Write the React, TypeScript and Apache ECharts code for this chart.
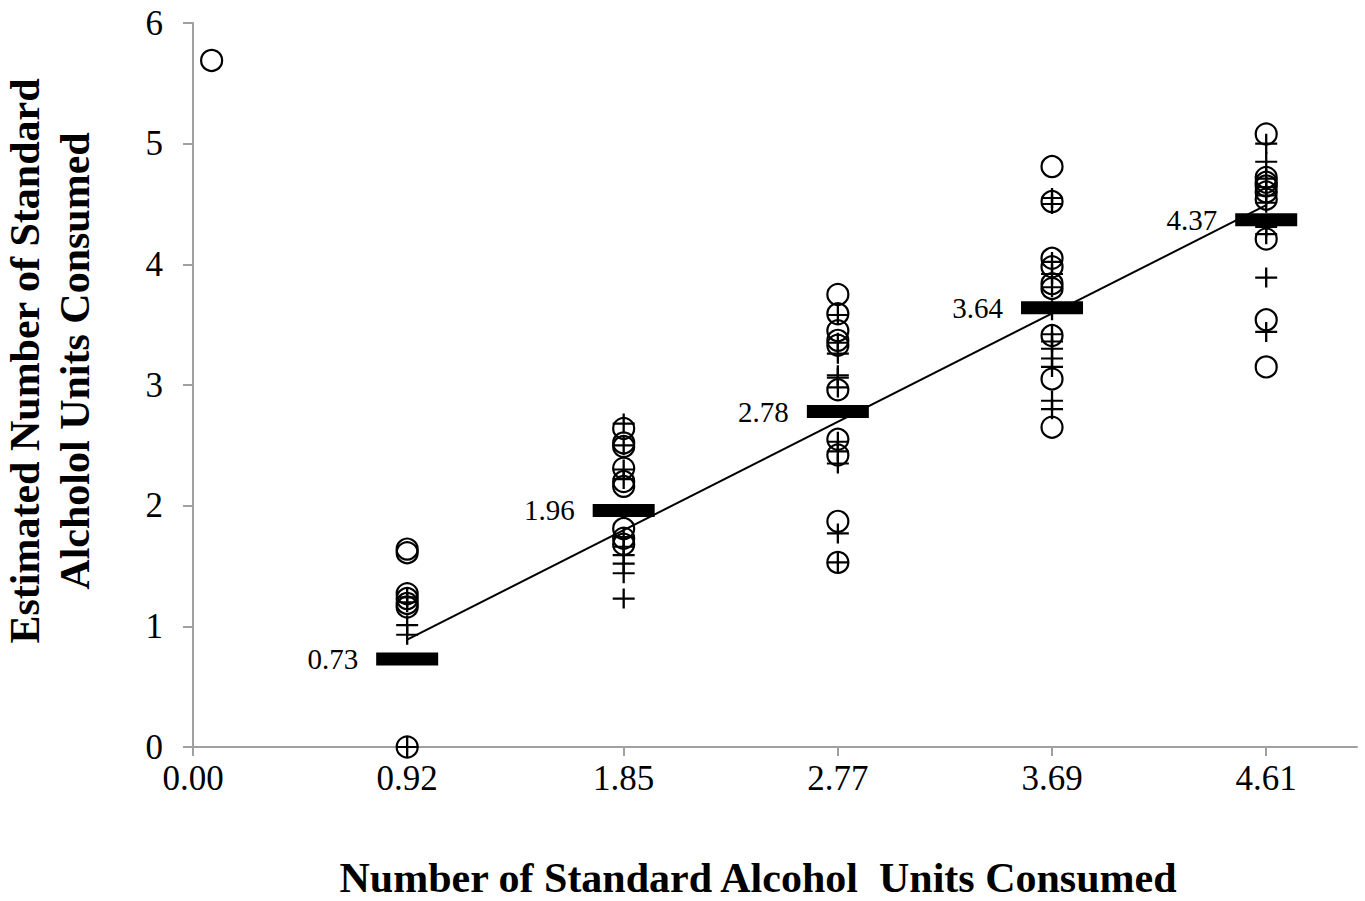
import React, { useEffect, useRef } from 'react';
import * as echarts from 'echarts';

// ---- data ----
const xTickValues = [0, 0.92, 1.85, 2.77, 3.69, 4.61];
const yMax = 6;
const meanX = [0.92, 1.85, 2.77, 3.69, 4.61];
const meanY = [0.73, 1.96, 2.78, 3.64, 4.37];
const trendX = [0.92, 4.61];
const trendY = [0.89, 4.49];
const outlierCircle = [0.08, 5.69];

const circlesAt092 = [1.64, 1.61, 1.27, 1.23, 1.19, 1.16, 0];
const circlesAt185 = [2.64, 2.52, 2.49, 2.31, 2.2, 2.16, 1.81, 1.73, 1.68];
const circlesAt277 = [3.75, 3.59, 3.45, 3.37, 3.33, 2.96, 2.55, 2.42, 1.87, 1.53];
const circlesAt369 = [4.81, 4.52, 4.05, 3.98, 3.84, 3.8, 3.41, 3.05, 2.65];
const circlesAt461 = [5.08, 4.72, 4.68, 4.65, 4.6, 4.54, 4.21, 3.54, 3.15];

const plusAt092 = [1.24, 1.2, 1.01, 0.93, 0];
const plusAt185 = [2.68, 2.5, 2.3, 2.22, 1.74, 1.66, 1.59, 1.52, 1.44, 1.23];
const plusAt277 = [3.58, 3.35, 3.26, 3.08, 3.06, 2.98, 2.53, 2.45, 2.35, 1.77, 1.53];
const plusAt369 = [4.55, 4.5, 4.02, 3.92, 3.81, 3.62, 3.42, 3.36, 3.3, 3.22, 3.15, 2.87, 2.8];
const plusAt461 = [5.0, 4.85, 4.71, 4.64, 4.57, 4.51, 4.31, 4.25, 3.89, 3.44];

const xTitle = 'Number of Standard Alcohol  Units Consumed';
const yTitle = 'Estimated Number of Standard\nAlcholol Units Consumed';

const FONT = '"Times New Roman", "Liberation Serif", serif';
const AXIS_GREY = '#a0a0a0';

function groupPoints(groups: [number, number[]][]): number[][] {
  const out: number[][] = [];
  groups.forEach(([x, ys]) => ys.forEach((y) => out.push([x, y])));
  return out;
}

export default function App() {
  const ref = useRef<HTMLDivElement>(null);

  useEffect(() => {
    document.body.style.margin = '0';
    if (!ref.current) return;
    const chart = echarts.init(ref.current, undefined, { renderer: 'svg' });

    const circleData = [outlierCircle].concat(
      groupPoints([
        [meanX[0], circlesAt092],
        [meanX[1], circlesAt185],
        [meanX[2], circlesAt277],
        [meanX[3], circlesAt369],
        [meanX[4], circlesAt461],
      ])
    );
    const plusData = groupPoints([
      [meanX[0], plusAt092],
      [meanX[1], plusAt185],
      [meanX[2], plusAt277],
      [meanX[3], plusAt369],
      [meanX[4], plusAt461],
    ]);
    const meanData = meanX.map((x, i) => [x, meanY[i]]);
    const trendData = trendX.map((x, i) => [x, trendY[i]]);

    chart.setOption({
      animation: false,
      backgroundColor: '#ffffff',
      grid: { left: 193, top: 23, right: 8, bottom: 154, containLabel: false },
      xAxis: {
        type: 'value',
        min: 0,
        max: 5,
        splitLine: { show: false },
        axisLine: { show: true, onZero: false, lineStyle: { color: AXIS_GREY, width: 2 } },
        axisTick: {
          show: true,
          customValues: xTickValues,
          length: 9,
          inside: false,
          lineStyle: { color: AXIS_GREY, width: 2 },
        },
        axisLabel: {
          customValues: xTickValues,
          formatter: (v: number) => v.toFixed(2),
          fontSize: 35,
          fontFamily: FONT,
          color: '#000',
          margin: 14,
        },
      },
      yAxis: {
        type: 'value',
        min: 0,
        max: yMax,
        interval: 1,
        splitLine: { show: false },
        axisLine: { show: true, lineStyle: { color: AXIS_GREY, width: 2 } },
        axisTick: { show: true, length: 10, inside: false, lineStyle: { color: AXIS_GREY, width: 2 } },
        axisLabel: {
          fontSize: 35,
          fontFamily: FONT,
          color: '#000',
          margin: 30,
        },
      },
      graphic: [
        {
          type: 'text',
          x: 758,
          y: 878,
          style: {
            text: xTitle,
            font: `bold 42px ${FONT}`,
            fill: '#000',
            textAlign: 'center',
            textVerticalAlign: 'middle',
          },
        },
        {
          type: 'text',
          x: 50,
          y: 361,
          rotation: Math.PI / 2,
          style: {
            text: yTitle,
            font: `bold 42px ${FONT}`,
            fill: '#000',
            lineHeight: 50,
            textAlign: 'center',
            textVerticalAlign: 'middle',
          },
        },
      ],
      series: [
        {
          type: 'line',
          data: trendData,
          symbol: 'none',
          lineStyle: { color: '#000', width: 2, opacity: 1 },
          emphasis: { disabled: true },
          silent: true,
          z: 2,
        },
        {
          type: 'scatter',
          data: circleData,
          symbol: 'circle',
          symbolSize: 21,
          itemStyle: { color: 'rgba(0,0,0,0)', borderColor: '#000', borderWidth: 2.2, opacity: 1 },
          emphasis: { disabled: true },
          z: 3,
        },
        {
          type: 'scatter',
          data: plusData,
          symbol: 'path://M10,0 L10,20 M0,10 L20,10',
          symbolSize: [22, 20],
          itemStyle: { color: 'rgba(0,0,0,0)', borderColor: '#000', borderWidth: 2.2, opacity: 1 },
          emphasis: { disabled: true },
          z: 4,
        },
        {
          type: 'scatter',
          data: meanData,
          symbol: 'rect',
          symbolSize: [62, 13],
          itemStyle: { color: '#000', opacity: 1 },
          label: {
            show: true,
            position: 'left',
            distance: 18,
            formatter: (p: any) => p.value[1].toFixed(2),
            fontSize: 29,
            fontFamily: FONT,
            color: '#000',
          },
          emphasis: { disabled: true },
          z: 5,
        },
      ],
    });

    return () => chart.dispose();
  }, []);

  return <div ref={ref} style={{ width: 1365, height: 901 }} />;
}
